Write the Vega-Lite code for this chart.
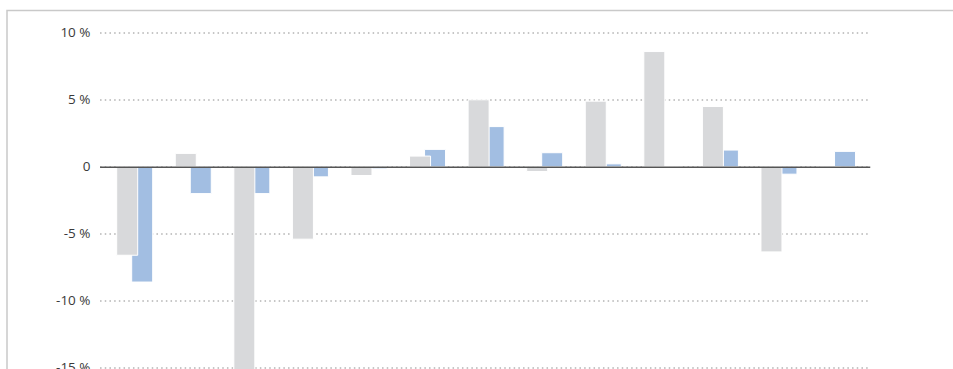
{
  "$schema": "https://vega.github.io/schema/vega-lite/v6.json",
  "width": 960,
  "height": 380,
  "autosize": {"type": "none"},
  "padding": {"left": 7, "top": 10.5, "right": 0, "bottom": 0},
  "background": "white",
  "config": {
    "view": {"stroke": "#c9c9c9", "strokeWidth": 1.5},
    "font": "Open Sans"
  },
  "data": {
    "values": [
      {"group": 1, "series": "A", "value": -6.6},
      {"group": 1, "series": "B", "value": -8.6},
      {"group": 2, "series": "A", "value": 1.0},
      {"group": 2, "series": "B", "value": -2.0},
      {"group": 3, "series": "A", "value": -17.0},
      {"group": 3, "series": "B", "value": -2.0},
      {"group": 4, "series": "A", "value": -5.4},
      {"group": 4, "series": "B", "value": -0.75},
      {"group": 5, "series": "A", "value": -0.65},
      {"group": 5, "series": "B", "value": -0.15},
      {"group": 6, "series": "A", "value": 0.8},
      {"group": 6, "series": "B", "value": 1.3},
      {"group": 7, "series": "A", "value": 5.0},
      {"group": 7, "series": "B", "value": 3.0},
      {"group": 8, "series": "A", "value": -0.35},
      {"group": 8, "series": "B", "value": 1.05},
      {"group": 9, "series": "A", "value": 4.9},
      {"group": 9, "series": "B", "value": 0.22},
      {"group": 10, "series": "A", "value": 8.6},
      {"group": 10, "series": "B", "value": 0},
      {"group": 11, "series": "A", "value": 4.5},
      {"group": 11, "series": "B", "value": 1.25},
      {"group": 12, "series": "A", "value": -6.35},
      {"group": 12, "series": "B", "value": -0.55},
      {"group": 13, "series": "A", "value": 0},
      {"group": 13, "series": "B", "value": 1.15}
    ]
  },
  "encoding": {
    "x": {
      "field": "group",
      "type": "quantitative",
      "scale": {"domain": [0.4, 13.55], "range": [92.56, 862.75], "nice": false, "zero": false, "padding": 0},
      "axis": {
        "orient": "bottom",
        "offset": -223.7,
        "domain": true,
        "domainColor": "#555555",
        "domainWidth": 1.6,
        "labels": false,
        "ticks": false,
        "grid": false,
        "title": null,
        "zindex": 1
      }
    },
    "y": {
      "field": "value",
      "type": "quantitative",
      "scale": {"domain": [-16.694, 11.664], "nice": false, "zero": false},
      "axis": {
        "values": [10, 5, 0, -5, -10, -15],
        "labelExpr": "datum.value === 0 ? '0' : datum.value + ' %'",
        "offset": -93,
        "domain": false,
        "ticks": false,
        "tickSize": 0,
        "labelPadding": 10,
        "grid": true,
        "gridColor": "#8c8c8c",
        "gridDash": [1.5, 3.2],
        "gridWidth": 1,
        "labelFont": "Open Sans",
        "labelFontSize": 13.5,
        "labelColor": "#3a3a3a",
        "title": null
      }
    }
  },
  "layer": [
    {
      "transform": [{"filter": "datum.series === 'B'"}],
      "mark": {"type": "bar", "width": 21, "xOffset": 7.5, "color": "#a2bee2", "stroke": "white", "strokeWidth": 1}
    },
    {
      "transform": [{"filter": "datum.series === 'A'"}],
      "mark": {"type": "bar", "width": 21, "xOffset": -7.5, "color": "#d8d9db", "stroke": "white", "strokeWidth": 1}
    }
  ]
}
